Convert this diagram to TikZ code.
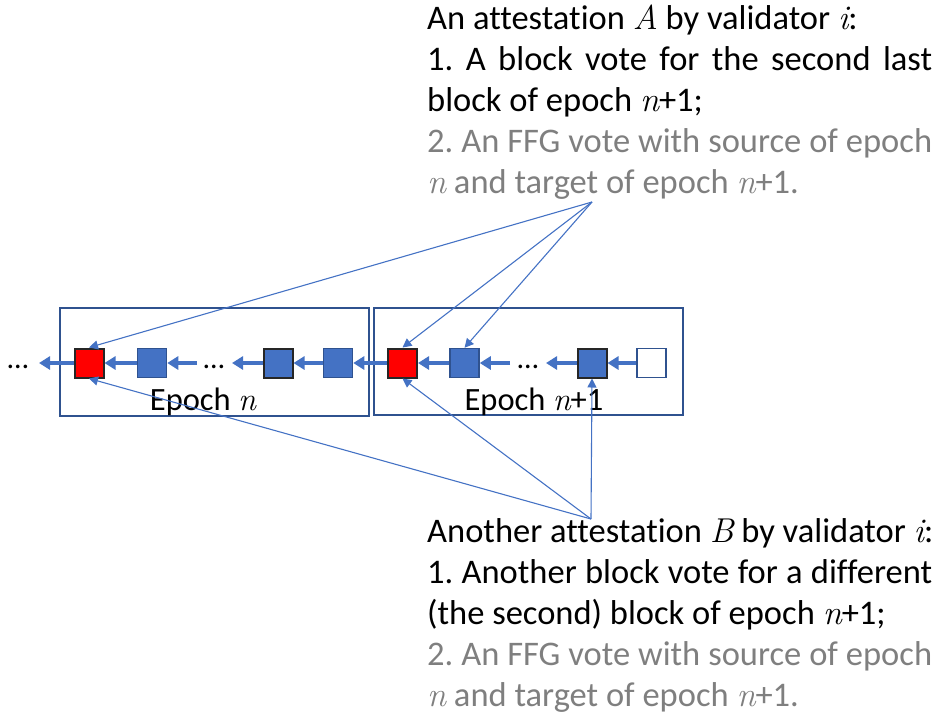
\documentclass[tikz,border=0pt]{standalone}
\usepackage{fontspec}
\setmainfont{Carlito}[Ligatures=NoCommon]
\newfontfamily\lmr{Latin Modern Roman}
\newcommand{\mv}[1]{{\lmr\itshape #1}}
\newcommand{\jline}[1]{\makebox[505pt][s]{#1}}
\usetikzlibrary{arrows.meta}
\definecolor{offblue}{HTML}{4472C4}
\definecolor{darkblue}{HTML}{2F528F}
\definecolor{txtgray}{HTML}{7F7F7F}
\tikzset{
  blk/.style={draw=darkblue, line width=1.5pt, fill=offblue, minimum size=29pt, inner sep=0pt},
  blkk/.style={blk, draw=black!85, line width=2pt},
  redblk/.style={blk, draw=black!85, line width=2pt, fill=red},
  whiteblk/.style={blk, fill=white},
  epochbox/.style={draw=darkblue, line width=1.5pt},
  chain/.style={draw=offblue, line width=4pt, -{Triangle[length=11pt,width=13pt]}},
  vote/.style={draw=offblue, line width=1.1pt, -{Triangle[length=9pt,width=9pt]}},
  dots/.style={font=\fontsize{30}{30}\selectfont, inner sep=0pt, anchor=base},
  epochlbl/.style={font=\fontsize{32.5}{36}\selectfont, inner sep=0pt, anchor=base},
  expl/.style={font=\fontsize{34.5}{41}\selectfont\frenchspacing, align=left, inner sep=0pt, anchor=base west}
}
\begin{document}
\begin{tikzpicture}[x=1pt,y=-1pt]
\useasboundingbox (0,0) rectangle (939,721);
% epoch boxes
\node[epochbox, minimum width=309pt, minimum height=108pt, inner sep=0pt, anchor=north west] (en) at (59,307) {};
\node[epochbox, minimum width=309pt, minimum height=107pt, inner sep=0pt, anchor=north west] (en1) at (373,307) {};
\node[epochlbl] (len) at (203,410) {Epoch \mv{n}};
\node[epochlbl] (len1) at (534,410) {Epoch \mv{n}+1};
% blocks
\node[redblk] (r1) at (89,363) {};
\node[blk] (b2) at (152,363) {};
\node[blkk] (b3) at (278,363) {};
\node[blk] (b4) at (338,363) {};
\node[redblk] (r2) at (402.5,363) {};
\node[blk] (b5) at (464.5,363) {};
\node[blkk] (b6) at (592,363) {};
\node[whiteblk] (w) at (651.5,363) {};
% dots
\node[dots] (d0) at (18,368) {…};
\node[dots] (d1) at (214,368) {…};
\node[dots] (d2) at (528,368) {…};
% free ends of chain arrows
\coordinate (t0) at (39,363);
\coordinate (s1) at (197,363);
\coordinate (t1) at (232,363);
\coordinate (s2) at (510,363);
\coordinate (t2) at (546,363);
% chain arrows
\draw[chain] (r1.west) -- (t0);
\draw[chain] (b2.west) -- (r1.east);
\draw[chain] (s1) -- (b2.east);
\draw[chain] (b3.west) -- (t1);
\draw[chain] (b4.west) -- (b3.east);
\draw[chain] (r2.west) -- (b4.east);
\draw[chain] (b5.west) -- (r2.east);
\draw[chain] (s2) -- (b5.east);
\draw[chain] (b6.west) -- (t2);
\draw[chain] (w.west) -- (b6.east);
% vote apexes
\coordinate (ta) at (592,202);
\coordinate (tb) at (591,519);
\draw[vote] (ta) -- (r1.north);
\draw[vote] (ta) -- (r2.north);
\draw[vote] (ta) -- (b5.north);
\draw[vote] (tb) -- (r1.south);
\draw[vote] (tb) -- (r2.south);
\draw[vote] (tb) -- (b6.south);
% texts (anchored at the baseline of their last line)
\node[expl] (txa) at (427,193) {An attestation \mv{A} by validator \mv{i}:\\
\jline{1. A block vote for the second last}\\
block of epoch \mv{n}+1;\\
\color{txtgray}\jline{2. An FFG vote with source of epoch}\\
\color{txtgray}\mv{n} and target of epoch \mv{n}+1.};
\node[expl] (txb) at (427,706) {Another attestation \mv{B} by validator \mv{i}:\\
\jline{1. Another block vote for a different}\\
(the second) block of epoch \mv{n}+1;\\
\color{txtgray}\jline{2. An FFG vote with source of epoch}\\
\color{txtgray}\mv{n} and target of epoch \mv{n}+1.};
\end{tikzpicture}
\end{document}
